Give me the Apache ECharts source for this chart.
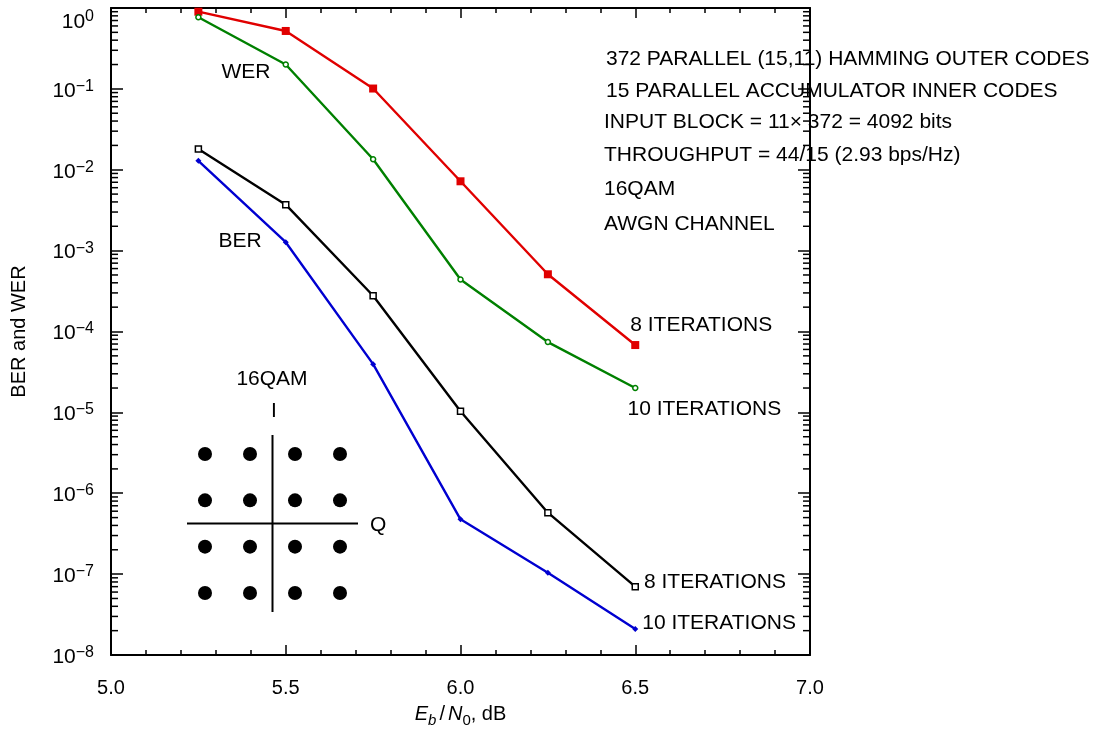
<!DOCTYPE html>
<html>
<head>
<meta charset="utf-8">
<script src="https://cdn.jsdelivr.net/npm/echarts@6/dist/echarts.min.js"></script>
<style>
  html, body { margin: 0; padding: 0; background: #fff; }
  #chart { width: 1106px; height: 731px; }
</style>
</head>
<body>
<div id="chart"></div>
<script>
// Eb/N0 operating points (dB)
const ebn0 = [5.25, 5.5, 5.75, 6.0, 6.25, 6.5];
// Word error rate
const wer8 = [0.90, 0.52, 0.101, 7.2e-3, 5.1e-4, 6.8e-5];
const wer10 = [0.77, 0.20, 0.0135, 4.4e-4, 7.4e-5, 2.0e-5];
// Bit error rate
const ber8 = [0.018, 3.7e-3, 2.77e-4, 1.03e-5, 5.75e-7, 7.0e-8];
const ber10 = [0.0129, 1.27e-3, 3.95e-5, 4.76e-7, 1.04e-7, 2.1e-8];

const iterLabels = ['8 ITERATIONS', '10 ITERATIONS'];
const notes = [
  '372 PARALLEL (15,11) HAMMING OUTER CODES',
  '15 PARALLEL ACCUMULATOR INNER CODES',
  'INPUT BLOCK = 11\u00d7 372 = 4092 bits',
  'THROUGHPUT = 44/15 (2.93 bps/Hz)',
  '16QAM',
  'AWGN CHANNEL'
];

// 16QAM constellation levels (I and Q)
const qamLevels = [-3, -1, 1, 3];
const crossSpan = [-3.8, 3.8];

const X_MIN = 5.0, X_MAX = 7.0;
const Y_MIN = 1e-8, Y_MAX = 1;
const FONT = '"Liberation Sans", Arial, Helvetica, sans-serif';
const TEXT_SIZE = 21;
const LINE_W = 2.4;

// minor decade ticks 2..9 x 10^n
const minorTickVals = [];
for (let e = -8; e < 0; e++) {
  for (let m = 2; m <= 9; m++) minorTickVals.push(m * Math.pow(10, e));
}

const qamPoints = [];
qamLevels.forEach(i => qamLevels.forEach(q => qamPoints.push([i, q])));

function withEndLabel(ys, text, offset) {
  return ebn0.map((x, i) => {
    if (i !== ebn0.length - 1) return [x, ys[i]];
    return {
      value: [x, ys[i]],
      label: {
        show: true, formatter: text, position: 'right', distance: 0,
        offset: offset, color: '#000', fontSize: TEXT_SIZE, fontFamily: FONT
      }
    };
  });
}

const axisLineStyle = { color: '#000', width: 2 };
const tickStyle = { color: '#000', width: 1.5 };

function xAxisDef(pos, showLabel) {
  return {
    type: 'value', gridIndex: 0, position: pos, min: X_MIN, max: X_MAX, interval: 0.5,
    axisLine: { show: true, onZero: false, lineStyle: axisLineStyle },
    axisTick: { show: true, inside: true, length: 10, lineStyle: tickStyle },
    minorTick: { show: true, splitNumber: 5, length: 5, lineStyle: tickStyle },
    splitLine: { show: false },
    axisLabel: {
      show: showLabel, margin: 23, color: '#000', fontSize: 20, fontFamily: FONT,
      formatter: v => v.toFixed(1)
    }
  };
}

function expLabel(v) {
  const e = Math.round(Math.log10(v));
  const s = e < 0 ? '\u2212' + (-e) : String(e);
  if (e === 0) return '{t|10}{ts|' + s + '}';
  return '{b|10}{s|' + s + '}';
}

function yAxisDef(pos, showLabel) {
  return {
    type: 'log', logBase: 10, gridIndex: 0, position: pos, min: Y_MIN, max: Y_MAX, splitNumber: 8,
    axisLine: { show: true, lineStyle: axisLineStyle },
    axisTick: { show: true, inside: true, length: 12, lineStyle: tickStyle },
    minorTick: { show: false },
    splitLine: { show: false },
    axisLabel: {
      show: showLabel, margin: 17, color: '#000', fontFamily: FONT,
      formatter: expLabel,
      rich: {
        b: { fontSize: 21, lineHeight: 21, padding: [2, 0, 0, 0], verticalAlign: 'top', fontFamily: FONT, color: '#000' },
        s: { fontSize: 16, lineHeight: 16, verticalAlign: 'top', fontFamily: FONT, color: '#000' },
        t: { fontSize: 21, lineHeight: 21, padding: [14, 0, 0, 0], verticalAlign: 'top', fontFamily: FONT, color: '#000' },
        ts: { fontSize: 16, lineHeight: 16, padding: [11, 0, 0, 0], verticalAlign: 'top', fontFamily: FONT, color: '#000' }
      }
    }
  };
}

const xMain = xAxisDef('bottom', true);
xMain.name = '{i|E}{isub|b}{sl|/}{i|N}{sub|0}{n|, dB}';
xMain.nameLocation = 'middle';
xMain.nameGap = 49;
xMain.nameTextStyle = {
  rich: {
    i: { fontSize: 20, lineHeight: 20, fontStyle: 'italic', verticalAlign: 'top', fontFamily: FONT, color: '#000' },
    isub: { fontSize: 15, lineHeight: 15, padding: [9, 0, 0, 0], fontStyle: 'italic', verticalAlign: 'top', fontFamily: FONT, color: '#000' },
    sub: { fontSize: 15, lineHeight: 15, padding: [9, 0, 0, 0], verticalAlign: 'top', fontFamily: FONT, color: '#000' },
    sl: { fontSize: 20, lineHeight: 20, padding: [0, 3, 0, 3], verticalAlign: 'top', fontFamily: FONT, color: '#000' },
    n: { fontSize: 20, lineHeight: 20, verticalAlign: 'top', fontFamily: FONT, color: '#000' }
  }
};

const yMain = yAxisDef('left', true);
yMain.name = 'BER and WER';
yMain.nameLocation = 'middle';
yMain.nameGap = 82;
yMain.nameTextStyle = { fontSize: 20, fontFamily: FONT, color: '#000' };

const hiddenAxis = (min, max) => ({
  type: 'value', gridIndex: 1, min: min, max: max, show: false,
  splitLine: { show: false }
});

function textEl(text, x, y, align) {
  return {
    type: 'text', x: x, y: y, silent: true,
    style: {
      text: text, fill: '#000', font: TEXT_SIZE + 'px ' + FONT,
      align: align || 'left', verticalAlign: 'middle'
    }
  };
}

const noteY = [59, 91, 122, 155, 189, 224];
const noteX = [606, 606, 604, 604, 604, 604];

const option = {
  backgroundColor: '#fff',
  animation: false,
  grid: [
    { left: 111, top: 8, right: 296, bottom: 76, containLabel: false, outerBoundsMode: 'none' },
    { left: 187, top: 435, width: 171, height: 177, containLabel: false, outerBoundsMode: 'none' }
  ],
  xAxis: [xMain, xAxisDef('top', false), hiddenAxis(-3.8, 3.8)],
  yAxis: [yMain, yAxisDef('right', false), hiddenAxis(-3.82, 3.82)],
  graphic: [
    textEl('WER', 246, 72, 'center'),
    textEl('BER', 240, 241, 'center'),
    textEl('16QAM', 272, 379, 'center'),
    textEl('I', 274, 411, 'center'),
    textEl('Q', 370, 525, 'left')
  ].concat(notes.map((t, i) => textEl(t, noteX[i], noteY[i], 'left'))),
  series: [
    {
      type: 'custom', name: 'minor ticks', xAxisIndex: 0, yAxisIndex: 0, silent: true, clip: false,
      data: minorTickVals.map(v => [X_MIN, v]),
      renderItem: (params, api) => {
        const y = api.coord([X_MIN, api.value(1)])[1];
        const cs = params.coordSys;
        return {
          type: 'group',
          children: [
            { type: 'line', shape: { x1: cs.x, y1: y, x2: cs.x + 7, y2: y }, style: { stroke: '#000', lineWidth: 1.5 } },
            { type: 'line', shape: { x1: cs.x + cs.width - 7, y1: y, x2: cs.x + cs.width, y2: y }, style: { stroke: '#000', lineWidth: 1.5 } }
          ]
        };
      }
    },
    {
      type: 'line', name: 'WER 8', xAxisIndex: 0, yAxisIndex: 0,
      data: withEndLabel(wer8, iterLabels[0], [-9, -20]),
      symbol: 'rect', symbolSize: 8, color: '#e00000',
      lineStyle: { color: '#e00000', width: LINE_W },
      itemStyle: { color: '#e00000' }
    },
    {
      type: 'line', name: 'WER 10', xAxisIndex: 0, yAxisIndex: 0,
      data: withEndLabel(wer10, iterLabels[1], [-11, 21]),
      symbol: 'circle', symbolSize: 5, color: '#008000',
      lineStyle: { color: '#008000', width: LINE_W },
      itemStyle: { color: '#fff', borderColor: '#008000', borderWidth: 1.5 }
    },
    {
      type: 'line', name: 'BER 8', xAxisIndex: 0, yAxisIndex: 0,
      data: withEndLabel(ber8, iterLabels[0], [5, -4]),
      symbol: 'rect', symbolSize: 6, color: '#000',
      lineStyle: { color: '#000', width: LINE_W },
      itemStyle: { color: '#fff', borderColor: '#000', borderWidth: 1.5 }
    },
    {
      type: 'line', name: 'BER 10', xAxisIndex: 0, yAxisIndex: 0,
      data: withEndLabel(ber10, iterLabels[1], [4, -6]),
      symbol: 'diamond', symbolSize: 6, color: '#0000d0',
      lineStyle: { color: '#0000d0', width: LINE_W },
      itemStyle: { color: '#0000d0' }
    },
    {
      type: 'line', name: 'Q axis', xAxisIndex: 2, yAxisIndex: 2, silent: true,
      data: crossSpan.map(v => [v, 0]), symbol: 'none',
      lineStyle: { color: '#000', width: 2 }
    },
    {
      type: 'line', name: 'I axis', xAxisIndex: 2, yAxisIndex: 2, silent: true,
      data: [[0, -3.82], [0, 3.82]], symbol: 'none',
      lineStyle: { color: '#000', width: 2 }
    },
    {
      type: 'scatter', name: '16QAM', xAxisIndex: 2, yAxisIndex: 2, silent: true,
      data: qamPoints, symbol: 'circle', symbolSize: 14,
      itemStyle: { color: '#000', opacity: 1 }
    }
  ]
};

const chart = echarts.init(document.getElementById('chart'), null, { renderer: 'canvas' });
chart.setOption(option);
</script>
</body>
</html>
